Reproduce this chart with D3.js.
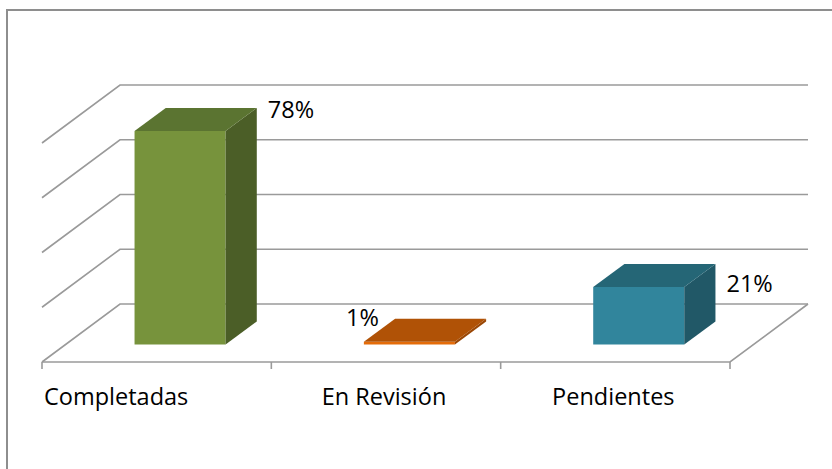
<!DOCTYPE html>
<html><head><meta charset="utf-8">
<script src="https://cdn.jsdelivr.net/npm/d3@7"></script>
<style>body{margin:0;background:#fff}svg{display:block}</style>
</head><body>
<svg id="c" width="832" height="469"></svg>
<script>
const categories = ["Completadas", "En Revisión", "Pendientes"];
const values = [0.78, 0.01, 0.21];
const valueLabels = ["78%", "1%", "21%"];
const gridTicks = [0, 0.2, 0.4, 0.6, 0.8];

const frontColors = ["#77933C", "#E46C0A", "#31859C"];
const topColors   = ["#5B7431", "#B05206", "#256676"];
const sideColors  = ["#4B5E27", "#9A4705", "#215867"];

const svg = d3.select("#c");

// frame
svg.append("rect").attr("x", 7).attr("y", 10).attr("width", 900).attr("height", 600)
  .attr("fill", "#fff").attr("stroke", "#8e8e8e").attr("stroke-width", 2);

// oblique 3D geometry
const x0 = 42, x1 = 730, floorY = 362;
const DX = 78, DY = -58;
const x = d3.scaleBand().domain(categories).range([x0, x1]).paddingInner(0.603).paddingOuter(0.3015);
const y = d3.scaleLinear().domain([0, 0.8]).range([0, 219]);
const depthFront = 0.3, depthBack = 0.7;

const P = (px, v, t) => [px + DX * t, floorY - y(v) + DY * t];
const line = d3.line();

const grid = svg.append("g").attr("fill", "none").attr("stroke", "#9a9a9a").attr("stroke-width", 1.6);
gridTicks.forEach(v => {
  grid.append("path").attr("d", line([P(x0, v, 0), P(x0, v, 1), P(x1, v, 1)]));
});
grid.append("path").attr("d", line([P(x0, 0, 0), P(x1, 0, 0), P(x1, 0, 1)]));
const tickXs = d3.range(categories.length + 1).map(i => x0 + i * x.step());
svg.append("g").attr("stroke", "#9a9a9a").attr("stroke-width", 1.6)
  .selectAll("line").data(tickXs).join("line")
  .attr("x1", d => d).attr("x2", d => d).attr("y1", floorY).attr("y2", floorY + 7);

// bars
const bars = svg.append("g");
categories.forEach((c, i) => {
  const v = values[i];
  const l = x(c), r = x(c) + x.bandwidth();
  const g = bars.append("g");
  g.append("path").attr("fill", frontColors[i])
    .attr("d", line([P(l, 0, depthFront), P(r, 0, depthFront), P(r, v, depthFront), P(l, v, depthFront)]) + "Z");
  g.append("path").attr("fill", sideColors[i])
    .attr("d", line([P(r, 0, depthFront), P(r, 0, depthBack), P(r, v, depthBack), P(r, v, depthFront)]) + "Z");
  g.append("path").attr("fill", topColors[i])
    .attr("d", line([P(l, v, depthFront), P(r, v, depthFront), P(r, v, depthBack), P(l, v, depthBack)]) + "Z");
});

// value labels
const font = "'Open Sans', sans-serif";
const lab = svg.append("g").attr("font-family", font).attr("font-size", 23.5).attr("fill", "#000");
categories.forEach((c, i) => {
  const v = values[i];
  const l = x(c), r = x(c) + x.bandwidth();
  const topBack = P(r, v, depthBack);
  const topFront = P(l, v, depthFront);
  if (i === 1) {
    lab.append("text").attr("x", topFront[0] + 15).attr("y", topFront[1] - 16).attr("text-anchor", "end").text(valueLabels[i]);
  } else if (i === 0) {
    lab.append("text").attr("x", topBack[0] + 11).attr("y", topBack[1] + 10).text(valueLabels[i]);
  } else {
    lab.append("text").attr("x", topBack[0] + 11).attr("y", topBack[1] + 28).text(valueLabels[i]);
  }
});

// category labels
const cl = svg.append("g").attr("font-family", font).attr("font-size", 23.5).attr("fill", "#000");
categories.forEach((c, i) => {
  const cx = x(c) + x.bandwidth() / 2;
  const t = cl.append("text").attr("y", 405).text(c);
  if (i === 0) t.attr("x", x0 + 2).attr("text-anchor", "start");
  else t.attr("x", cx - 2).attr("text-anchor", "middle");
});
</script>
</body></html>
